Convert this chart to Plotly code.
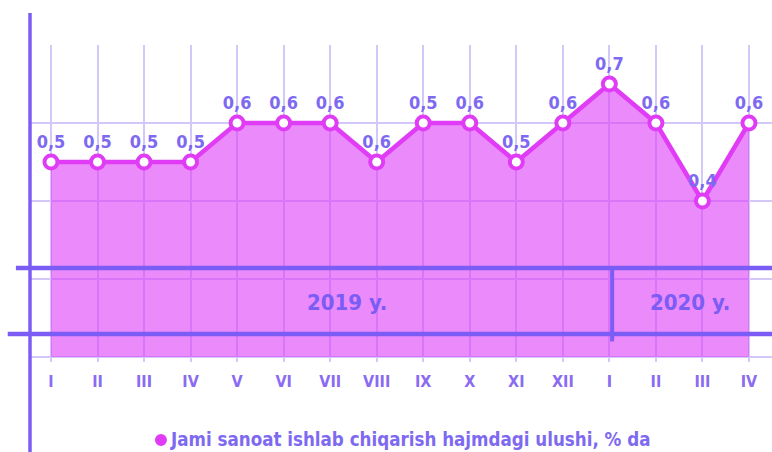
import plotly.graph_objects as go

categories = ["I", "II", "III", "IV", "V", "VI", "VII", "VIII", "IX", "X", "XI", "XII", "I", "II", "III", "IV"]
values = [0.5, 0.5, 0.5, 0.5, 0.6, 0.6, 0.6, 0.5, 0.6, 0.6, 0.5, 0.6, 0.7, 0.6, 0.4, 0.6]
labels = ["0,5", "0,5", "0,5", "0,5", "0,6", "0,6", "0,6", "0,6", "0,5", "0,6", "0,5", "0,6", "0,7", "0,6", "0,4", "0,6"]
year_labels = ["2019 y.", "2020 y."]
legend_name = "Jami sanoat ishlab chiqarish hajmdagi ulushi, % da"

FONT = "DejaVu Sans Condensed, Liberation Sans Narrow, Roboto, sans-serif"
AXIS_C = "#7B5CF5"
TEXT_C = "#7E6AF0"
LINE_C = "#E03CF6"
GRID_C = "#D4C8FB"

idx = list(range(len(categories)))

fig = go.Figure()
fig.add_trace(go.Scatter(
    x=idx, y=values, mode="lines+markers+text", name=legend_name,
    text=["<b>" + t + "</b>" for t in labels], textposition="top center",
    textfont=dict(family=FONT, size=18, color=TEXT_C),
    line=dict(color=LINE_C, width=4.5),
    marker=dict(size=13, color="white", line=dict(color=LINE_C, width=4)),
    fill="tozeroy", fillcolor="rgba(222,60,246,0.6)",
    showlegend=False, cliponaxis=False,
))

# thick band lines
fig.add_shape(type="line", xref="paper", yref="y", x0=-0.019, x1=1, y0=0.228, y1=0.228,
              line=dict(color=AXIS_C, width=4.5), layer="above")
fig.add_shape(type="line", xref="paper", yref="y", x0=-0.03, x1=1, y0=0.059, y1=0.059,
              line=dict(color=AXIS_C, width=4.5), layer="above")
fig.add_shape(type="line", xref="x", yref="y", x0=12.06, x1=12.06, y0=0.228, y1=0.04,
              line=dict(color=AXIS_C, width=4), layer="above")
# y axis line
fig.add_shape(type="line", xref="paper", yref="paper", x0=0, x1=0, y0=-0.3, y1=1.101,
              line=dict(color=AXIS_C, width=3.5), layer="above")

# legend (dot + text)
fig.add_shape(type="circle", xref="paper", yref="paper", xsizemode="pixel", ysizemode="pixel",
              xanchor=0.1765, yanchor=-0.246, x0=-6, x1=6, y0=-6, y1=6,
              fillcolor=LINE_C, line=dict(width=0))
fig.add_annotation(xref="paper", yref="paper", x=0.186, y=-0.246, xanchor="left", yanchor="middle",
                   text="<b>" + legend_name + "</b>", showarrow=False,
                   font=dict(family=FONT, size=18.6, color=TEXT_C))

fig.add_annotation(x=6.36, y=0.141, text="<b>" + year_labels[0] + "</b>", showarrow=False,
                   font=dict(family=FONT, size=22, color=AXIS_C))
fig.add_annotation(x=13.73, y=0.141, text="<b>" + year_labels[1] + "</b>", showarrow=False,
                   font=dict(family=FONT, size=22, color=AXIS_C))

fig.update_layout(
    width=772, height=452,
    margin=dict(l=30, r=0, t=45, b=90, autoexpand=False),
    paper_bgcolor="white", plot_bgcolor="white",
    showlegend=False,
    xaxis=dict(range=[-0.451, 15.495], tickmode="array", tickvals=idx,
               ticktext=["<b>" + c + "</b>" for c in categories],
               showgrid=True, gridcolor=GRID_C, gridwidth=1.5, zeroline=False, showline=False,
               automargin=False,
               tickfont=dict(family=FONT, size=16, color="#8A6BF2"), ticks="", ticklabelstandoff=8),
    yaxis=dict(range=[-0.0128, 0.8], tickvals=[0, 0.2, 0.4, 0.6, 0.8], showticklabels=False,
               automargin=False,
               showgrid=True, gridcolor=GRID_C, gridwidth=2, zeroline=False, showline=False),
)

fig.write_html("out.html", post_script="document.body.style.margin='0';",
               config={"displayModeBar": False})
